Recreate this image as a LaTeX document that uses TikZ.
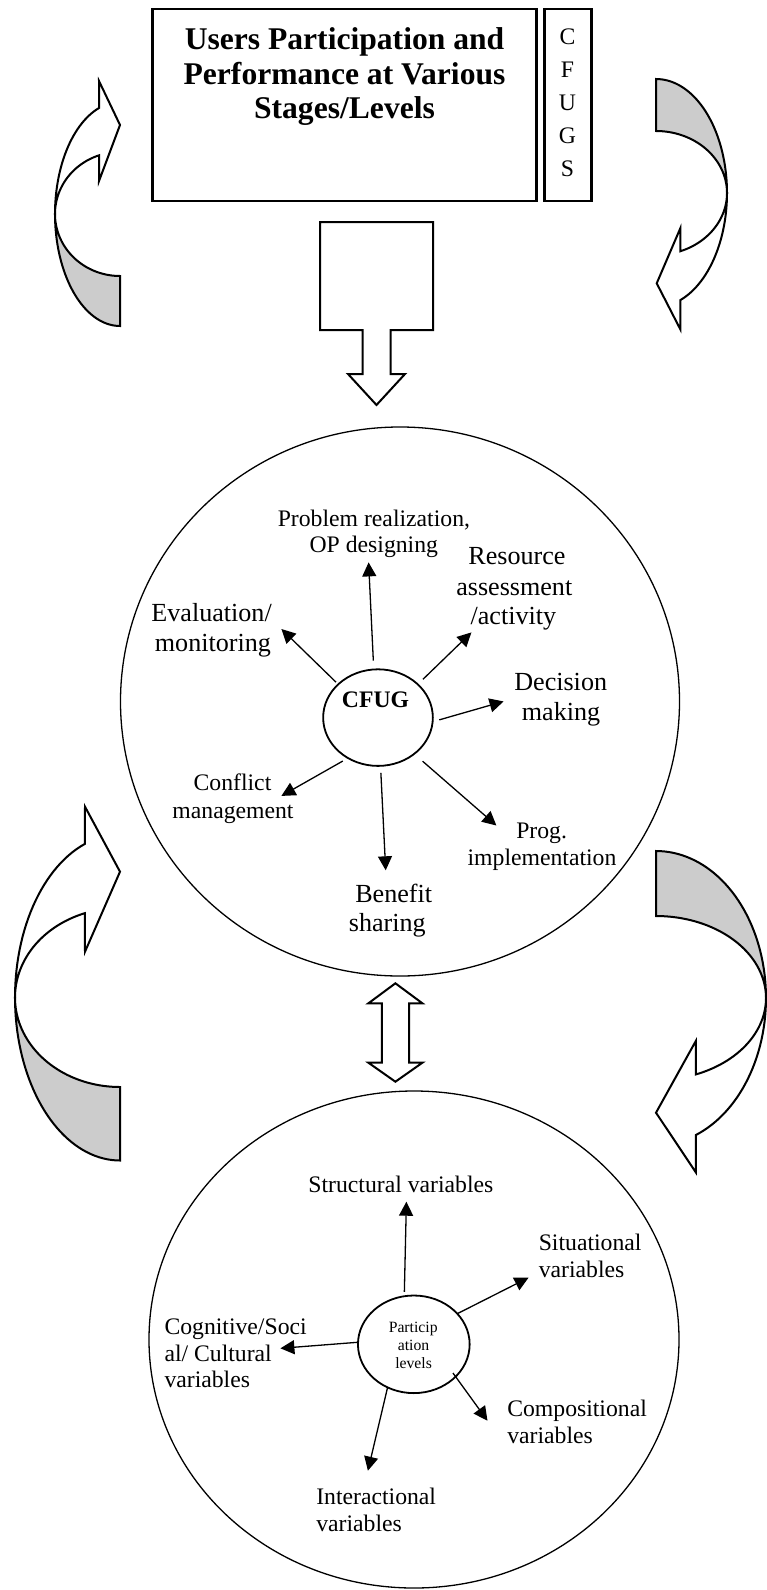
\documentclass[tikz,border=0pt]{standalone}
\usepackage{fontspec}
\setmainfont{Liberation Serif}
\usetikzlibrary{arrows.meta,shapes.geometric}
\newcommand{\fsS}{\fontsize{23.7}{27}\selectfont}
\newcommand{\fsL}{\fontsize{26.1}{30}\selectfont}
\newcommand{\fsT}{\bfseries\fontsize{31.6}{37}\selectfont}
\newcommand{\fsP}{\fontsize{15.7}{17.5}\selectfont}
\begin{document}
\begin{tikzpicture}[x=1pt,y=-1pt,
  conn/.style={line width=1.3pt,-{Triangle[length=14pt,width=14pt]}},
  sm/.style={anchor=base,inner sep=0pt,font=\fsS},
  lg/.style={anchor=base,inner sep=0pt,font=\fsL},
  smw/.style={anchor=base west,inner sep=0pt,font=\fsS},
  pt/.style={anchor=base,inner sep=0pt,font=\fsP},
  blockarrow/.style={line width=2pt,fill=white,line join=miter},
  tailfill/.style={line width=2pt,fill=black!20,line join=miter},
  headfill/.style={line width=2pt,fill=white,line join=miter},
  bigcirc/.style={draw,ellipse,line width=1.3pt,inner sep=0pt},
  smallcirc/.style={draw,ellipse,line width=1.8pt,inner sep=0pt},
  boxstyle/.style={draw,rectangle,line width=2.6pt,inner sep=0pt}
]
\fill[white] (0,0) rectangle (767,1590);
\useasboundingbox (0,0) rectangle (767,1590);

% ---------- top boxes ----------
\node[boxstyle,minimum width=384.4pt,minimum height=192pt] (titlebox) at (344.5,105) {};
\node[boxstyle,minimum width=47.2pt,minimum height=192pt] (cfugsbox) at (567.9,105) {};
\node[anchor=base,inner sep=0pt,font=\fsT] (t1) at (344.5,49.5) {Users Participation and};
\node[anchor=base,inner sep=0pt,font=\fsT] (t2) at (344.5,84) {Performance at Various};
\node[anchor=base,inner sep=0pt,font=\fsT] (t3) at (344.5,118.5) {Stages/Levels};
\foreach \l [count=\i] in {C,F,U,G,S}
  \node[anchor=base,inner sep=0pt,font=\fsS] (cf\i) at (567.5,{44.5+33*(\i-1)}) {\l};

% ---------- block arrow down ----------
\draw[blockarrow] (320,222) -- (433,222) -- (433,330) -- (390.5,330) -- (390.5,374) -- (405,374)
  -- (376.5,405) -- (348,374) -- (362.5,374) -- (362.5,330) -- (320,330) -- cycle;

% ---------- double arrow ----------
\draw[blockarrow] (395.4,983.3) -- (422.4,1003.3) -- (409,1003.3) -- (409,1062.7) -- (422.4,1062.7)
  -- (395.4,1081.7) -- (368.4,1062.7) -- (381.8,1062.7) -- (381.8,1003.3) -- (368.4,1003.3) -- cycle;

% ---------- curved arrow top-left ----------
\filldraw[tailfill] plot[domain=180:90,samples=40,variable=\t] ({120+65*cos(\t)},{214+112*sin(\t)})
  -- plot[domain=90:180,samples=40,variable=\t] ({120+65*cos(\t)},{214+62*sin(\t)}) -- cycle;
\filldraw[headfill] plot[domain=180:251.2,samples=30,variable=\t] ({120+65*cos(\t)},{214+112*sin(\t)})
  -- (99,81) -- (120,125) -- (99,181)
  -- plot[domain=251.2:180,samples=30,variable=\t] ({120+65*cos(\t)},{214+62*sin(\t)}) -- cycle;

% ---------- curved arrow top-right ----------
\filldraw[tailfill] plot[domain=0:-90,samples=40,variable=\t] ({656+71*cos(\t)},{193+114*sin(\t)})
  -- plot[domain=-90:0,samples=40,variable=\t] ({656+71*cos(\t)},{193+62*sin(\t)}) -- cycle;
\filldraw[headfill] plot[domain=0:70,samples=30,variable=\t] ({656+71*cos(\t)},{193+114*sin(\t)})
  -- (680.3,329.3) -- (656.7,283.3) -- (680.3,228.3)
  -- plot[domain=70:0,samples=30,variable=\t] ({656+71*cos(\t)},{193+62*sin(\t)}) -- cycle;

% ---------- curved arrow bottom-left ----------
\filldraw[tailfill] plot[domain=180:90,samples=40,variable=\t] ({120+105*cos(\t)},{997.5+163*sin(\t)})
  -- plot[domain=90:180,samples=40,variable=\t] ({120+105*cos(\t)},{997.5+89.5*sin(\t)}) -- cycle;
\filldraw[headfill] plot[domain=180:250.5,samples=30,variable=\t] ({120+105*cos(\t)},{997.5+163*sin(\t)})
  -- (85,806.7) -- (120,871.7) -- (85,951.7)
  -- plot[domain=250.5:180,samples=30,variable=\t] ({120+105*cos(\t)},{997.5+89.5*sin(\t)}) -- cycle;

% ---------- curved arrow bottom-right ----------
\filldraw[tailfill] plot[domain=0:-90,samples=40,variable=\t] ({656+110*cos(\t)},{998+147*sin(\t)})
  -- plot[domain=-90:0,samples=40,variable=\t] ({656+110*cos(\t)},{998+82*sin(\t)}) -- cycle;
\filldraw[headfill] plot[domain=0:68.8,samples=30,variable=\t] ({656+110*cos(\t)},{998+147*sin(\t)})
  -- (695.8,1172.3) -- (656,1112.7) -- (695.8,1041)
  -- plot[domain=68.8:0,samples=30,variable=\t] ({656+110*cos(\t)},{998+82*sin(\t)}) -- cycle;

% ---------- circle 1 ----------
\node[bigcirc,minimum width=559pt,minimum height=549pt] (c1) at (400,701.5) {};
\node[smallcirc,minimum width=109.7pt,minimum height=96.6pt] (cfug) at (378,717.6) {};
\node[anchor=base,inner sep=0pt,font=\bfseries\fsS] (cfugt) at (375.5,707.2) {CFUG};

\node[sm] (l1a) at (373.9,526.2) {Problem realization,};
\node[sm] (l1b) at (373.8,552) {OP designing};
\node[lg] (l2a) at (517,564.8) {Resource};
\node[lg] (l2b) at (514.3,595.2) {assessment};
\node[lg] (l2c) at (513.4,624.5) {/activity};
\node[lg] (l3a) at (211.6,621) {Evaluation/};
\node[lg] (l3b) at (212.9,651) {monitoring};
\node[lg] (l4a) at (560.7,690) {Decision};
\node[lg] (l4b) at (561,720) {making};
\node[sm] (l5a) at (232.5,790) {Conflict};
\node[sm] (l5b) at (233,818.3) {management};
\node[sm] (l6a) at (541.6,838.3) {Prog.};
\node[sm] (l6b) at (542,865.2) {implementation};
\node[lg] (l7a) at (393.7,902) {Benefit};
\node[lg] (l7b) at (387.3,931.4) {sharing};

\coordinate (tP) at (368.6,562.4);
\coordinate (tE) at (281.4,629);
\coordinate (tR) at (471.4,632.4);
\coordinate (tD) at (503.6,701.4);
\coordinate (tG) at (496.4,825.5);
\coordinate (tB) at (385.7,870.3);
\coordinate (tC) at (281.4,795.9);
\draw[conn,shorten <=7.9pt] (cfug.95.9) -- (tP);
\draw[conn,shorten <=2.2pt] (cfug.140.2) -- (tE);
\draw[conn,shorten <=6.3pt] (cfug.40) -- (tR);
\draw[conn,shorten <=5.9pt] (cfug.-4.85) -- (tD);
\draw[conn,shorten <=10.3pt] (cfug.-45.9) -- (tG);
\draw[conn,shorten <=6.1pt] (cfug.-87.5) -- (tB);
\draw[conn,shorten <=5pt] (cfug.-127.3) -- (tC);

% ---------- circle 2 ----------
\node[bigcirc,minimum width=530pt,minimum height=497pt] (c2) at (414,1339.5) {};
\node[smallcirc,minimum width=111.7pt,minimum height=97.6pt] (parti) at (413.8,1344.3) {};
\node[pt] (p1) at (413.2,1332.8) {Particip};
\node[pt] (p2) at (413.6,1350.7) {ation};
\node[pt] (p3) at (413.6,1368) {levels};

\node[sm] (m1) at (400.9,1192.1) {Structural variables};
\node[smw] (m2a) at (538.6,1250) {Situational};
\node[smw] (m2b) at (538.6,1277.6) {variables};
\node[smw] (m3a) at (164.3,1334.5) {Cognitive/Soci};
\node[smw] (m3b) at (164.3,1361) {al/ Cultural};
\node[smw] (m3c) at (164.3,1387.9) {variables};
\node[smw] (m4a) at (507.1,1416.2) {Compositional};
\node[smw] (m4b) at (507.1,1443.1) {variables};
\node[smw] (m5a) at (316.1,1504.5) {Interactional};
\node[smw] (m5b) at (316.1,1531) {variables};

\coordinate (uS) at (406.4,1201.7);
\coordinate (uT) at (528.6,1277.6);
\coordinate (uC) at (280.4,1348.3);
\coordinate (uP) at (487.5,1420.7);
\coordinate (uI) at (367.9,1470.7);
\draw[conn,shorten <=3.4pt] (parti.101) -- (uS);
\draw[conn,shorten <=-1.1pt] (parti.35.2) -- (uT);
\draw[conn,shorten <=0pt] (parti.178.1) -- (uC);
\draw[conn,shorten <=-5.4pt] (parti.-38.1) -- (uP);
\draw[conn,shorten <=-0.4pt] (parti.-121.1) -- (uI);
\end{tikzpicture}
\end{document}
